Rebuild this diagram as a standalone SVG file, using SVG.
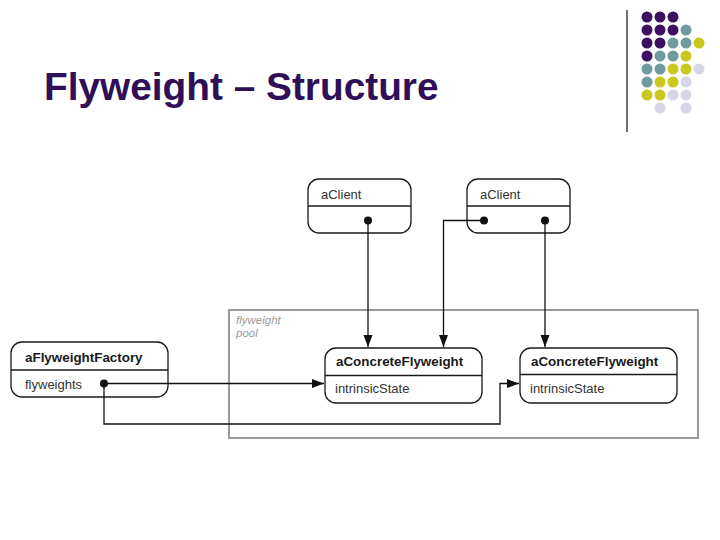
<svg xmlns="http://www.w3.org/2000/svg" width="720" height="540" viewBox="0 0 720 540">
<defs>
<style>
.box{fill:#fff;stroke:#1a1a1a;stroke-width:1.3}
.div{stroke:#1a1a1a;stroke-width:1.3}
.hdr{font-family:"Liberation Sans",Arial,sans-serif;font-size:13.4px;font-weight:bold;fill:#1a1a1a}
.reg{font-family:"Liberation Sans",Arial,sans-serif;font-size:13px;fill:#333}
.ln{fill:none;stroke:#111;stroke-width:1.3}
.p{fill:#3b1060}.t{fill:#6e9c9e}.y{fill:#c9c81e}.l{fill:#d6d6e6}
</style>
<marker id="ah" viewBox="0 0 12 10" refX="12" refY="5" markerWidth="12" markerHeight="10" markerUnits="userSpaceOnUse" orient="auto">
<path d="M0,0.5 L12,5 L0,9.5 Z" fill="#111"/>
</marker>
</defs>
<rect width="720" height="540" fill="#fff"/>
<g id="title">
<text x="44" y="100" font-family="'Liberation Sans',Arial,sans-serif" font-size="38.8" font-weight="bold" fill="#2e0f58">Flyweight – Structure</text>
</g>
<g id="decor">
<line x1="627" y1="10" x2="627" y2="132" stroke="#222" stroke-width="1.3"/>
<g>
<circle class="p" cx="647" cy="17" r="5.5"/><circle class="p" cx="660" cy="17" r="5.5"/><circle class="p" cx="673" cy="17" r="5.5"/>
<circle class="p" cx="647" cy="30" r="5.5"/><circle class="p" cx="660" cy="30" r="5.5"/><circle class="p" cx="673" cy="30" r="5.5"/><circle class="t" cx="686" cy="30" r="5.5"/>
<circle class="p" cx="647" cy="43" r="5.5"/><circle class="p" cx="660" cy="43" r="5.5"/><circle class="t" cx="673" cy="43" r="5.5"/><circle class="t" cx="686" cy="43" r="5.5"/><circle class="y" cx="699" cy="43" r="5.5"/>
<circle class="p" cx="647" cy="56" r="5.5"/><circle class="t" cx="660" cy="56" r="5.5"/><circle class="t" cx="673" cy="56" r="5.5"/><circle class="y" cx="686" cy="56" r="5.5"/>
<circle class="t" cx="647" cy="69" r="5.5"/><circle class="t" cx="660" cy="69" r="5.5"/><circle class="y" cx="673" cy="69" r="5.5"/><circle class="y" cx="686" cy="69" r="5.5"/><circle class="l" cx="699" cy="69" r="5.5"/>
<circle class="t" cx="647" cy="82" r="5.5"/><circle class="y" cx="660" cy="82" r="5.5"/><circle class="y" cx="673" cy="82" r="5.5"/><circle class="l" cx="686" cy="82" r="5.5"/>
<circle class="y" cx="647" cy="95" r="5.5"/><circle class="y" cx="660" cy="95" r="5.5"/><circle class="l" cx="673" cy="95" r="5.5"/><circle class="l" cx="686" cy="95" r="5.5"/>
<circle class="l" cx="660" cy="108" r="5.5"/><circle class="l" cx="686" cy="108" r="5.5"/>
</g>
</g>
<g id="pool">
<rect x="229" y="310" width="469" height="128" fill="none" stroke="#999" stroke-width="2"/>
<text x="236" y="324" font-family="'Liberation Sans',Arial,sans-serif" font-size="11.5" font-style="italic" fill="#999">flyweight</text>
<text x="236" y="337" font-family="'Liberation Sans',Arial,sans-serif" font-size="11.5" font-style="italic" fill="#999">pool</text>
</g>
<g id="client1">
<rect class="box" x="308" y="179" width="103" height="54" rx="11"/>
<line class="div" x1="308" y1="206" x2="411" y2="206"/>
<text class="reg" x="321" y="199" fill="#222">aClient</text>
</g>
<g id="client2">
<rect class="box" x="467" y="179" width="103" height="54" rx="11"/>
<line class="div" x1="467" y1="206" x2="570" y2="206"/>
<text class="reg" x="480" y="199" fill="#222">aClient</text>
</g>
<g id="factory">
<rect class="box" x="11" y="342" width="157" height="55" rx="11"/>
<line class="div" x1="11" y1="370" x2="168" y2="370"/>
<text class="hdr" x="25" y="362">aFlyweightFactory</text>
<text class="reg" x="25" y="389">flyweights</text>
</g>
<g id="flyweight1">
<rect class="box" x="325" y="348" width="157" height="55" rx="11"/>
<line class="div" x1="325" y1="375.5" x2="482" y2="375.5"/>
<text class="hdr" x="336" y="366">aConcreteFlyweight</text>
<text class="reg" x="335" y="393">intrinsicState</text>
</g>
<g id="flyweight2">
<rect class="box" x="520" y="348" width="157" height="55" rx="11"/>
<line class="div" x1="520" y1="374.5" x2="677" y2="374.5"/>
<text class="hdr" x="531" y="366">aConcreteFlyweight</text>
<text class="reg" x="530" y="393">intrinsicState</text>
</g>
<g id="connectors">
<circle cx="368" cy="220.5" r="4" fill="#111"/>
<circle cx="484" cy="220.5" r="4" fill="#111"/>
<circle cx="545" cy="220.5" r="4" fill="#111"/>
<circle cx="104" cy="383.5" r="4" fill="#111"/>
<path class="ln" d="M368,220.5 V347" marker-end="url(#ah)"/>
<path class="ln" d="M484,220.5 H443.5 V347" marker-end="url(#ah)"/>
<path class="ln" d="M545,220.5 V347" marker-end="url(#ah)"/>
<path class="ln" d="M104,383.5 H324" marker-end="url(#ah)"/>
<path class="ln" d="M104,383.5 V424 H500 V383.5 H519" marker-end="url(#ah)"/>
</g>
</svg>
